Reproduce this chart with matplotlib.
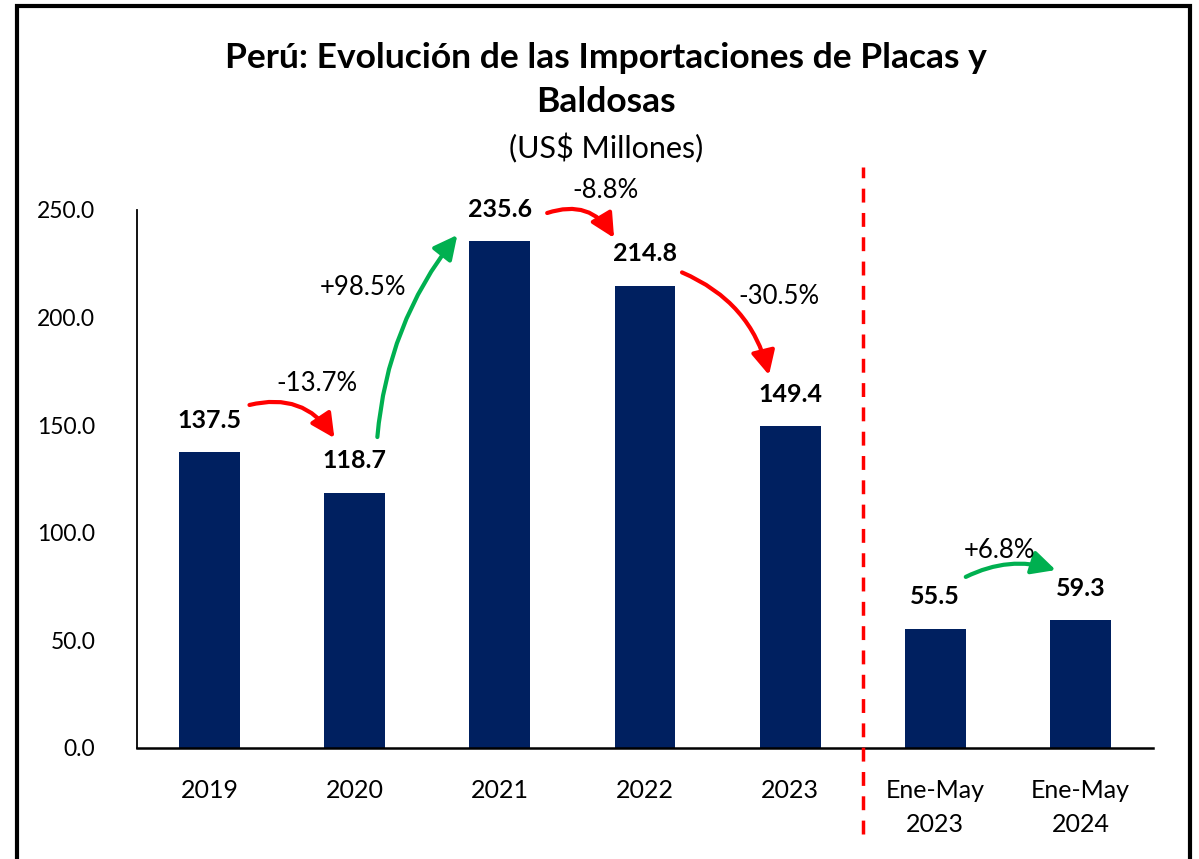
import matplotlib
matplotlib.use("Agg")
import matplotlib.pyplot as plt
from matplotlib.patches import Rectangle

plt.rcParams['font.family'] = ['Lato', 'DejaVu Sans']

categories = ["2019", "2020", "2021", "2022", "2023", "Ene-May\n2023", "Ene-May\n2024"]
values = [137.5, 118.7, 235.6, 214.8, 149.4, 55.5, 59.3]
value_labels = ["137.5", "118.7", "235.6", "214.8", "149.4", "55.5", "59.3"]
changes = ["-13.7%", "+98.5%", "-8.8%", "-30.5%", "+6.8%"]
title = "Perú: Evolución de las Importaciones de Placas y\nBaldosas"
subtitle = "(US$ Millones)"
yticks = [0, 50, 100, 150, 200, 250]

W, H = 1199, 859
fig = plt.figure(figsize=(W / 100, H / 100), dpi=100)
ax = fig.add_axes([137 / W, 1 - 748 / H, (1153 - 137) / W, (748 - 210) / H])

x = list(range(len(categories)))
ax.bar(x, values, width=0.42, color="#002060", zorder=2)
ax.set_xlim(-0.5, len(categories) - 0.5)
ax.set_ylim(0, 250)
ax.set_yticks(yticks)
ax.set_yticklabels([f"{v:.1f}" for v in yticks])
ax.set_xticks(x)
ax.set_xticklabels(categories, linespacing=1.6)
ax.tick_params(axis='y', length=0, pad=30, labelsize=16.5)
ax.tick_params(axis='x', length=0, pad=22, labelsize=18)
for s in ["top", "right"]:
    ax.spines[s].set_visible(False)
ax.spines["left"].set_linewidth(1.3)
ax.spines["bottom"].set_linewidth(1.8)

for xi, v, lab in zip(x, values, value_labels):
    ax.annotate(lab, (xi, v), xytext=(0, 23), textcoords="offset points",
                ha="center", va="center", fontsize=18, fontweight="bold")

# separator
ax.plot([4.5, 4.5], [-40, 270], color="red", lw=2.5, ls=(0, (4, 3)), clip_on=False, zorder=3)

red, green = "#FF0000", "#00B050"
arrows = [
    ((0.275, 159.4), (0.86, 144.0), red, -0.35, (0.74, 169.6), changes[0]),
    ((1.156, 144.5), (1.707, 238.4), green, -0.15, (1.06, 214.0), changes[1]),
    ((2.326, 248.6), (2.787, 237.0), red, -0.4, (2.725, 259.0), changes[2]),
    ((3.255, 221.0), (3.854, 173.3), red, -0.25, (3.92, 210.0), changes[3]),
    ((5.21, 79.5), (5.83, 82.7), green, -0.2, (5.44, 92.0), changes[4]),
]
for start, end, col, rad, tpos, txt in arrows:
    ax.annotate("", xy=end, xytext=start,
                arrowprops=dict(arrowstyle="-|>,head_length=0.9,head_width=0.45", color=col, lw=3,
                                shrinkA=0, shrinkB=0, mutation_scale=16,
                                connectionstyle=f"arc3,rad={rad}"),
                annotation_clip=False)
    ax.text(tpos[0], tpos[1], txt, ha="center", va="center", fontsize=18.5)

fig.text(606 / W, 1 - 80 / H, title, ha="center", va="center", fontsize=25.5,
         fontweight="bold", linespacing=1.45)
fig.text(606 / W, 1 - 148 / H, subtitle, ha="center", va="center", fontsize=22)

fig.add_artist(Rectangle((17 / W, -0.05), (1190 - 17) / W, 1.05 - 6 / H,
                         transform=fig.transFigure, fill=False, ec="black", lw=3))

fig.savefig("out.png", dpi=100)
